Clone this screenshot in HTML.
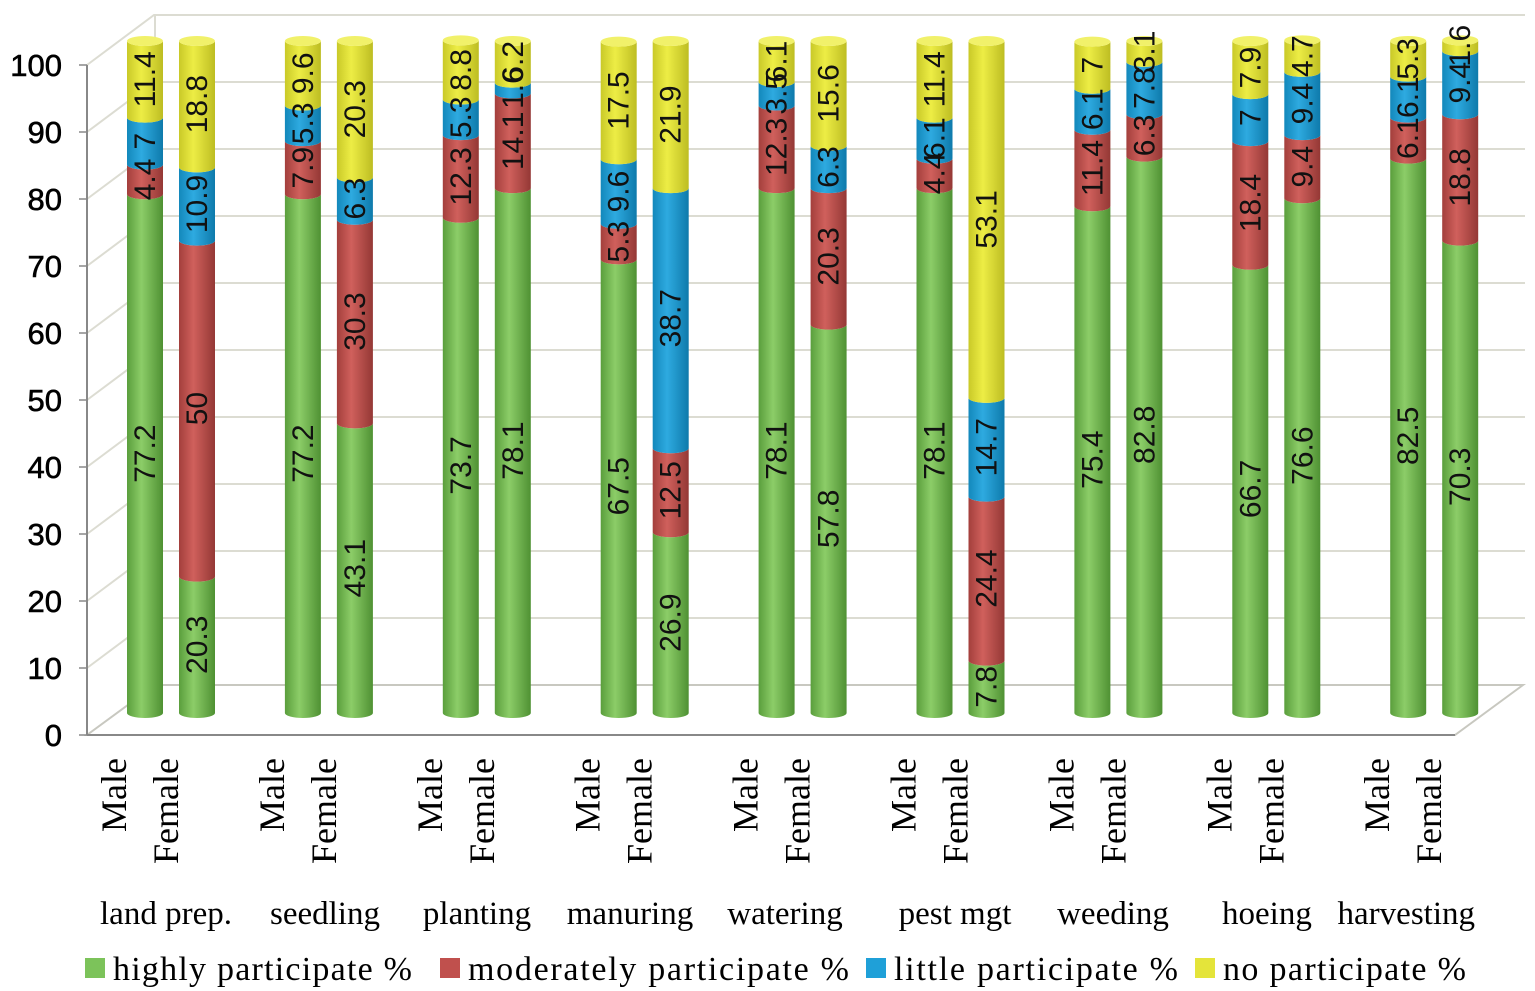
<!DOCTYPE html>
<html><head><meta charset="utf-8"><style>
html,body{margin:0;padding:0;background:#fff;}
svg{display:block;}
</style></head><body>
<svg id="chart" width="1535" height="991" viewBox="0 0 1535 991" xmlns="http://www.w3.org/2000/svg">
<defs>
<linearGradient id="gG" x1="0" x2="1"><stop offset="0" stop-color="#5a9e3c"/><stop offset="0.4" stop-color="#8ccd68"/><stop offset="1" stop-color="#4f9133"/></linearGradient>
<linearGradient id="gR" x1="0" x2="1"><stop offset="0" stop-color="#a33f3c"/><stop offset="0.4" stop-color="#d0605c"/><stop offset="1" stop-color="#943835"/></linearGradient>
<linearGradient id="gB" x1="0" x2="1"><stop offset="0" stop-color="#1388bb"/><stop offset="0.4" stop-color="#2eaae0"/><stop offset="1" stop-color="#0e7aab"/></linearGradient>
<linearGradient id="gY" x1="0" x2="1"><stop offset="0" stop-color="#c9c928"/><stop offset="0.4" stop-color="#eded45"/><stop offset="1" stop-color="#bdbd22"/></linearGradient>
</defs>
</svg>
<script>
const categories=["land prep.","seedling","planting","manuring","watering","pest mgt","weeding","hoeing","harvesting"];
const genders=["Male","Female"];
const highly=[[77.2,20.3],[77.2,43.1],[73.7,78.1],[67.5,26.9],[78.1,57.8],[78.1,7.8],[75.4,82.8],[66.7,76.6],[82.5,70.3]];
const moderately=[[4.4,50],[7.9,30.3],[12.3,14.1],[5.3,12.5],[12.3,20.3],[4.4,24.4],[11.4,6.3],[18.4,9.4],[6.1,18.8]];
const little=[[7,10.9],[5.3,6.3],[5.3,1.6],[9.6,38.7],[3.5,6.3],[6.1,14.7],[6.1,7.8],[7,9.4],[6.1,9.4]];
const none=[[11.4,18.8],[9.6,20.3],[8.8,6.2],[17.5,21.9],[6.1,15.6],[11.4,53.1],[7,3.1],[7.9,4.7],[5.3,1.6]];
const yTicks=[0,10,20,30,40,50,60,70,80,90,100];
const seriesNames=["highly participate %","moderately participate  %","little participate  %","no participate %"];

const NS="http://www.w3.org/2000/svg";
const svg=document.getElementById('chart');
function mk(t,a,p){const e=document.createElementNS(NS,t);for(const k in a)e.setAttribute(k,a[k]);(p||svg).appendChild(e);return e;}
const axisY=v=>735-6.7*v;
const barY=v=>713-6.72*v;
const groupX=i=>171+i*157.9;
const barX=(i,g)=>groupX(i)+(g===0?-26:26);
const DX=67,DY=-50;
const grid=mk('g',{});

mk('polygon',{points:`87,735 1455,735 1523,685 155,685`,fill:'none',stroke:'#c8c8c0','stroke-width':2},grid);
yTicks.forEach(v=>{
  const y=axisY(v);
  if(v>0){mk('polyline',{points:`87,${y} ${87+DX},${y+DY} 1525,${y+DY}`,fill:'none',stroke:'#dcdcd2','stroke-width':2},grid);}
  const t=mk('text',{x:62,y:y+11,'font-family':'Liberation Sans, sans-serif','font-size':31,'text-anchor':'end',fill:'#000',stroke:'#000','stroke-width':0.6});
  t.textContent=v;
  
  mk('line',{x1:79,y1:y,x2:87,y2:y,stroke:'#888','stroke-width':1.5});
});
mk('line',{x1:87,y1:axisY(0),x2:87,y2:axisY(100),stroke:'#888','stroke-width':2});
mk('line',{x1:87,y1:735,x2:1455,y2:735,stroke:'#888','stroke-width':2});
mk('line',{x1:155,y1:685,x2:155,y2:15,stroke:'#dcdcd2','stroke-width':2});
mk('line',{x1:155,y1:15,x2:1525,y2:15,stroke:'#dcdcd2','stroke-width':2});
const fills=['url(#gG)','url(#gR)','url(#gB)','url(#gY)'];
const tops=['#9fd77f','#dd7c78','#5cc0ea','#f1f16a'];
const W=36,R=5;
categories.forEach((c,i)=>{
  genders.forEach((g,gi)=>{
    const vals=[highly[i][gi],moderately[i][gi],little[i][gi],none[i][gi]];
    const x=barX(i,gi);
    const bg=mk('g',{});
    
    
    let cum=0;
    vals.forEach((v,s)=>{
      const y0=barY(cum),y1=barY(cum+v);
      mk('path',{d:`M${x-W/2},${y1} L${x-W/2},${y0} A${W/2},${R} 0 0 0 ${x+W/2},${y0} L${x+W/2},${y1} A${W/2},${R} 0 0 1 ${x-W/2},${y1} Z`,fill:fills[s]},bg);
      cum+=v;
    });
    mk('ellipse',{cx:x,cy:barY(cum),rx:W/2,ry:R,fill:tops[3]},bg);
    cum=0;
    vals.forEach((v,s)=>{
      const ym=barY(cum+v/2);
      const t=mk('text',{x:x+10,y:ym,'font-family':'Liberation Sans, sans-serif','font-size':30,'text-anchor':'middle',fill:'#111',transform:`rotate(-90 ${x+10} ${ym})`},bg);
      t.textContent=v;
      
      cum+=v;
    });
    const lx=x-30;
    const gl=mk('text',{x:lx+11,y:758,'font-family':'Liberation Serif, serif','font-size':36,'text-anchor':'end',fill:'#000',transform:`rotate(-90 ${lx+11} 758)`});
    gl.textContent=g;
    
  });
});
const catX=[166,325,477,630,785,955,1113,1285,1412];
categories.forEach((c,i)=>{
  let x=catX[i], anchor='middle';
  if(c==='hoeing'){x=1222;anchor='start';}
  if(c==='harvesting'){x=1475;anchor='end';}
  const t=mk('text',{x:x,y:924,'font-family':'Liberation Serif, serif','font-size':33,'text-anchor':anchor,fill:'#000'});
  t.textContent=c;
  
});
const legX=[85,440,866,1195];
const legW=[299,381,284,243];
const legC=['#7cc35a','#c0504d','#1fa0d8','#e4e43a'];
seriesNames.forEach((n,s)=>{
  const g=mk('g',{});
  
  mk('rect',{x:legX[s],y:958,width:20,height:20,fill:legC[s]},g);
  const t=mk('text',{x:legX[s]+28,y:980,'font-family':'Liberation Serif, serif','font-size':34,fill:'#000',textLength:legW[s],lengthAdjust:'spacing','xml:space':'preserve'},g);
  t.textContent=n;
});
</script>
</body></html>
